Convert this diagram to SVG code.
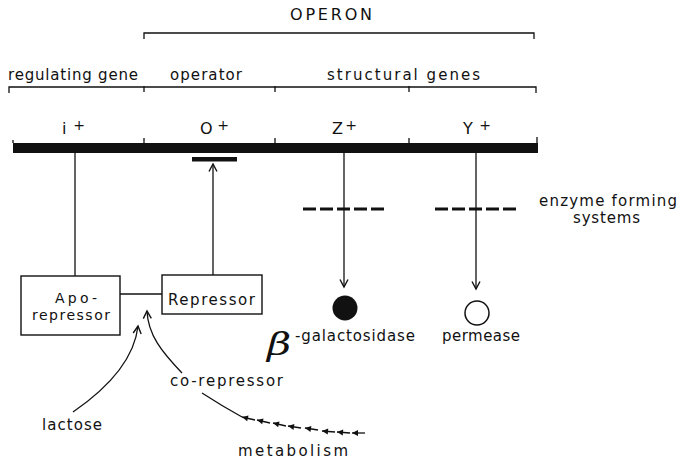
<svg xmlns="http://www.w3.org/2000/svg" width="678" height="459" viewBox="0 0 678 459">
  <defs>
    <style>
      text{font-family:"DejaVu Sans","Liberation Sans",sans-serif;font-size:15px;fill:#111;}
      .big{font-size:16px;}
      .sup{font-size:14px;}
      .cap{font-size:16px;}
      .bx{font-size:14px;}
      .beta{font-family:"DejaVu Serif",serif;font-style:italic;font-size:31px;}
      .ln{stroke:#111;stroke-width:1.3;fill:none;}
      .box{stroke:#111;stroke-width:1.4;fill:#fff;}
      .dash{stroke:#111;stroke-width:3;stroke-dasharray:13 4;fill:none;}
    </style>
    <!-- open V arrowhead, tip at the path end -->
    <marker id="ah" viewBox="-9 -5 11 10" markerWidth="11" markerHeight="10" refX="0" refY="0" orient="auto" markerUnits="userSpaceOnUse">
      <path d="M-7.5,-4 L0,0 L-7.5,4" fill="none" stroke="#111" stroke-width="1.4"/>
    </marker>
    <!-- small solid head for the dotted metabolism trail -->
    <marker id="sh" viewBox="-7 -4 9 8" markerWidth="9" markerHeight="8" refX="0" refY="0" orient="auto" markerUnits="userSpaceOnUse">
      <path d="M-6,-3 L0,0 L-6,3 Z" fill="#111"/>
    </marker>
  </defs>

  <rect width="678" height="459" fill="#fff"/>

  <!-- operon bracket -->
  <g id="operon">
    <text class="cap" x="290" y="20" textLength="82" lengthAdjust="spacing">OPERON</text>
    <path class="ln" d="M144,39 V33 H534 V39"/>
  </g>

  <!-- region labels and bracket -->
  <g id="regions">
    <text x="8" y="80" textLength="130" lengthAdjust="spacing">regulating gene</text>
    <text x="170" y="80" textLength="72" lengthAdjust="spacing">operator</text>
    <text x="327" y="80" textLength="153" lengthAdjust="spacing">structural genes</text>
    <path class="ln" d="M9,93 V87 H536 V93 M144,86 V92 M275,86 V92 M409,86 V92"/>
  </g>

  <!-- chromosome with gene loci -->
  <g id="chromosome">
    <rect x="13" y="143" width="525" height="10" fill="#111"/>
    <path class="ln" d="M13,140 V143 M144,138 V143 M275,138 V143 M409,138 V143 M537,137 V143"/>
  </g>
  <g id="gene-i">
    <text class="big" x="62" y="134">i</text>
    <text class="sup" x="79" y="130" text-anchor="middle">+</text>
  </g>
  <g id="gene-o">
    <text class="big" x="200" y="134">O</text>
    <text class="sup" x="223" y="130" text-anchor="middle">+</text>
    <rect x="192" y="157" width="45" height="4.5" fill="#111"/>
  </g>
  <g id="gene-z">
    <text class="big" x="332" y="134">Z</text>
    <text class="sup" x="351" y="130" text-anchor="middle">+</text>
  </g>
  <g id="gene-y">
    <text class="big" x="463" y="134">Y</text>
    <text class="sup" x="485" y="130" text-anchor="middle">+</text>
  </g>

  <!-- enzyme forming systems -->
  <g id="enzyme-systems">
    <path class="dash" d="M303,209 H387 M435,209 H517"/>
    <text x="539" y="206" textLength="138" lengthAdjust="spacing">enzyme forming</text>
    <text x="573" y="223" textLength="67" lengthAdjust="spacing">systems</text>
  </g>

  <!-- repressor boxes -->
  <g id="aporepressor">
    <rect class="box" x="21" y="276" width="99" height="59"/>
    <text class="bx" x="55" y="303" textLength="42" lengthAdjust="spacing">Apo-</text>
    <text class="bx" x="32" y="320" textLength="78" lengthAdjust="spacing">repressor</text>
  </g>
  <g id="repressor">
    <rect class="box" x="162" y="275" width="100" height="39"/>
    <text x="168" y="305" textLength="87" lengthAdjust="spacing">Repressor</text>
  </g>

  <!-- products -->
  <g id="galactosidase">
    <circle cx="345" cy="308" r="12.5" fill="#111"/>
    <text class="beta" transform="translate(267,355) scale(1.35,1)">β</text>
    <text x="295" y="341" textLength="120" lengthAdjust="spacing">-galactosidase</text>
  </g>
  <g id="permease">
    <circle cx="477" cy="313" r="12" fill="none" stroke="#111" stroke-width="1.5"/>
    <text x="442" y="341" textLength="78" lengthAdjust="spacing">permease</text>
  </g>

  <!-- effectors -->
  <g id="lactose">
    <text x="42" y="430" textLength="60" lengthAdjust="spacing">lactose</text>
  </g>
  <g id="corepressor">
    <text x="170" y="386" textLength="113" lengthAdjust="spacing">co-repressor</text>
  </g>
  <g id="metabolism">
    <text x="238" y="456" textLength="110" lengthAdjust="spacing">metabolism</text>
  </g>

  <!-- connectors -->
  <g id="connectors">
    <path class="ln" d="M75,153 V276"/>
    <path class="ln" d="M213,275 V164" marker-end="url(#ah)"/>
    <path class="ln" d="M120,294 H162"/>
    <path class="ln" d="M344,153 V287" marker-end="url(#ah)"/>
    <path class="ln" d="M476,153 V289" marker-end="url(#ah)"/>
    <path class="ln" d="M73,412 C105,390 134,362 138,326" marker-end="url(#ah)"/>
    <path class="ln" d="M182,373 C162,352 148,335 147,311" marker-end="url(#ah)"/>
    <path class="ln" d="M202,393 Q222,406 242,417"/>
    <path class="ln" d="M255,420 L242,417" marker-end="url(#sh)"/>
    <path class="ln" d="M270,423 L257,420" marker-end="url(#sh)"/>
    <path class="ln" d="M286,426 L273,423" marker-end="url(#sh)"/>
    <path class="ln" d="M301,428 L288,426" marker-end="url(#sh)"/>
    <path class="ln" d="M318,430 L305,428" marker-end="url(#sh)"/>
    <path class="ln" d="M335,432 L322,431" marker-end="url(#sh)"/>
    <path class="ln" d="M350,433 L337,432" marker-end="url(#sh)"/>
    <path class="ln" d="M365,433 L352,433" marker-end="url(#sh)"/>
  </g>
</svg>
